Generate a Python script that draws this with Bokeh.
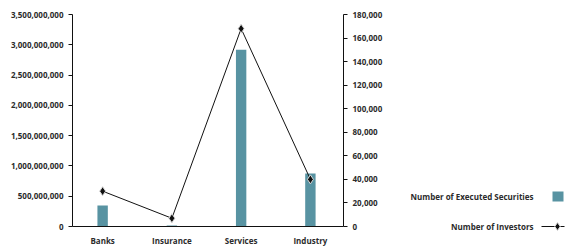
from bokeh.plotting import figure
from bokeh.models import (Range1d, LinearAxis, FixedTicker, NumeralTickFormatter, ColumnDataSource)
from bokeh.layouts import row, column
from bokeh.embed import file_html
from bokeh.resources import INLINE
from bokeh.core.properties import value

categories = ["Banks", "Insurance", "Services", "Industry"]
executed_securities = [345_000_000, 15_000_000, 2_920_000_000, 875_000_000]
investors = [30_000, 7_000, 168_000, 40_000]
left_ticks = [0, 500_000_000, 1_000_000_000, 1_500_000_000, 2_000_000_000, 2_500_000_000, 3_000_000_000, 3_500_000_000]
right_ticks = [0, 20_000, 40_000, 60_000, 80_000, 100_000, 120_000, 140_000, 160_000, 180_000]
legend_labels = ["Number of Executed Securities", "Number of Investors"]

FONT = "Open Sans"
TXT = "#2b2b2b"
BAR = "#5893a2"

xs = list(range(len(categories)))
src = ColumnDataSource(dict(x=xs, sec=executed_securities, inv=investors))

p = figure(width=408, height=248, output_backend="svg", toolbar_location=None,
           x_range=Range1d(-0.435, 3.478), y_range=Range1d(0, 3_500_000_000),
           min_border_left=72, min_border_right=65, min_border_top=14, min_border_bottom=22)
p.extra_y_ranges = {"inv": Range1d(0, 180_000)}
p.outline_line_color = None
p.xgrid.grid_line_color = None
p.ygrid.grid_line_color = None
p.background_fill_color = "white"
p.border_fill_color = "white"

p.vbar(x="x", top="sec", width=0.15, source=src, fill_color=BAR, line_color=None)
p.line(x="x", y="inv", source=src, y_range_name="inv", line_color="#111111", line_width=1)
p.scatter(x="x", y="inv", source=src, y_range_name="inv", marker="diamond", size=9,
          fill_color="#111111", line_color="#d8d8d8", line_width=1)

def style(ax):
    ax.axis_line_color = "#111111"
    ax.axis_line_width = 1
    ax.major_tick_line_color = "#111111"
    ax.major_tick_in = 0
    ax.major_tick_out = 4
    ax.minor_tick_line_color = None
    ax.major_label_text_font = FONT
    ax.major_label_text_font_size = "8px"
    ax.major_label_text_font_style = "bold"
    ax.major_label_text_color = TXT

xa = p.xaxis[0]
style(xa)
xa.ticker = FixedTicker(ticks=xs)
xa.major_label_overrides = {i: c for i, c in enumerate(categories)}
xa.major_tick_out = 0
xa.major_label_standoff = 8

ya = p.yaxis[0]
style(ya)
ya.ticker = FixedTicker(ticks=left_ticks)
ya.formatter = NumeralTickFormatter(format="0,0")
ya.major_label_standoff = 5

ra = LinearAxis(y_range_name="inv")
style(ra)
ra.ticker = FixedTicker(ticks=right_ticks)
ra.formatter = NumeralTickFormatter(format="0,0")
ra.major_label_standoff = 5
p.add_layout(ra, "right")

# legend panel
lg = figure(width=165, height=248, output_backend="svg", toolbar_location=None,
            x_range=Range1d(0, 165), y_range=Range1d(0, 248), min_border=0)
lg.axis.visible = False
lg.grid.grid_line_color = None
lg.outline_line_color = None
lg_src = ColumnDataSource(dict(x=[125, 125], y=[52, 22], t=legend_labels))
lg.text(x="x", y="y", text="t", source=lg_src, text_align="right", text_baseline="middle",
        text_font=value(FONT), text_font_size="8px", text_font_style="bold", text_color=TXT)
lg.rect(x=[149.5], y=[52], width=11, height=10, fill_color=BAR, line_color=None)
lg.line(x=[133, 156], y=[22, 22], line_color="#111111", line_width=1)
lg.scatter(x=[149], y=[22], marker="diamond", size=8, fill_color="#111111", line_color="#d8d8d8")

layout = row(p, column(lg), spacing=0)
open("out.html", "w").write(file_html(layout, INLINE))
